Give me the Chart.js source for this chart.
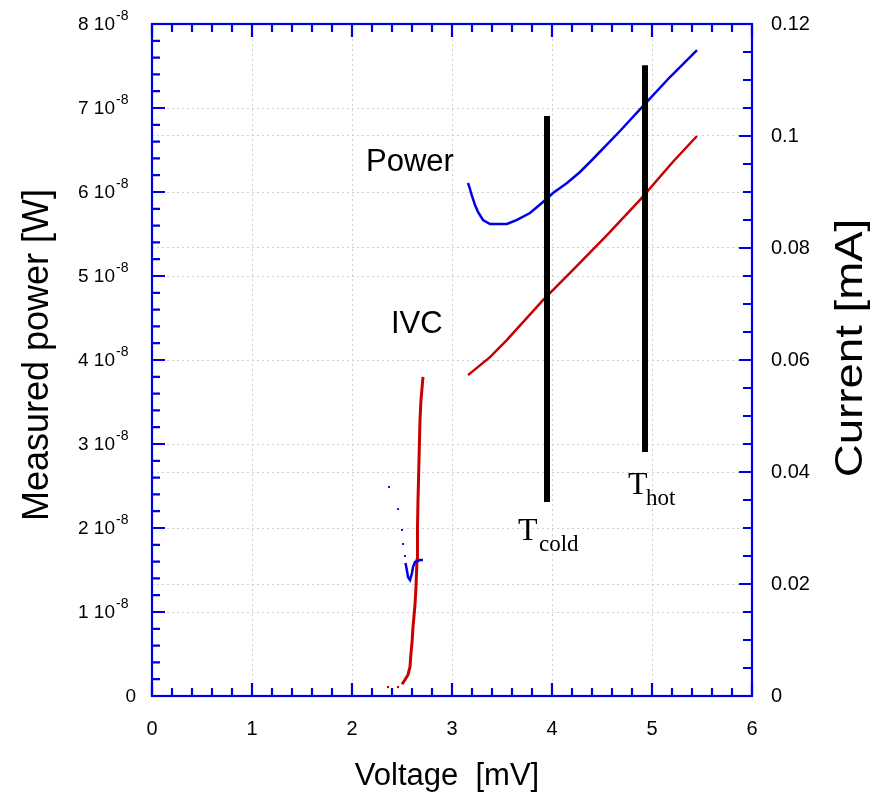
<!DOCTYPE html>
<html>
<head>
<meta charset="utf-8">
<script src="https://cdn.jsdelivr.net/npm/chart.js@4/dist/chart.umd.min.js"></script>
<style>
  body{margin:0;background:#fff;}
</style>
</head>
<body>
<canvas id="chart" width="878" height="798"></canvas>
<script>
// power curve, upper branch (mV, W)
let powerV=[3.16,3.18,3.19,3.23,3.26,3.31,3.38,3.55,3.65,3.78,3.91,4.01,4.15,4.28,4.40,4.68,4.93,5.18,5.45];
let powerW=[6.107e-8,6.036e-8,5.988e-8,5.845e-8,5.762e-8,5.667e-8,5.619e-8,5.619e-8,5.667e-8,5.750e-8,5.881e-8,5.988e-8,6.107e-8,6.238e-8,6.381e-8,6.726e-8,7.048e-8,7.369e-8,7.690e-8];
// power near the gap, scattered dots then dense part
let powerDotsV=[2.37,2.46,2.50,2.51,2.53];
let powerDotsW=[2.488e-8,2.226e-8,1.976e-8,1.810e-8,1.667e-8];
let powerLowV=[2.535,2.55,2.56,2.58,2.60,2.61,2.63,2.68,2.71];
let powerLowW=[1.583e-8,1.488e-8,1.417e-8,1.381e-8,1.464e-8,1.536e-8,1.595e-8,1.619e-8,1.619e-8];
// IV curve (mV, mA)
let ivcV=[3.16,3.38,3.55,3.91,4.21,4.55,4.88,5.21,5.45];
let ivcI=[0.0573,0.0605,0.0636,0.0707,0.0761,0.0823,0.0886,0.0954,0.1000];
let ivcGapV=[2.50,2.53,2.56,2.58,2.59,2.60,2.61,2.63,2.64,2.65,2.655,2.66,2.67,2.68,2.69,2.71];
let ivcGapI=[0.0021,0.0029,0.0038,0.0052,0.0077,0.0095,0.0123,0.0163,0.0195,0.0243,0.0302,0.035,0.0421,0.0493,0.0529,0.057];
let ivcDotsV=[2.36,2.46,0,0];
let ivcDotsI=[0.0016,0.0016,0,0.0012];
// Tcold / Thot markers (mV, W)
let coldV=3.95, coldW=[2.31e-8,6.905e-8];
let hotV=4.93, hotW=[2.905e-8,7.51e-8];

let fam="'Liberation Sans', Arial, sans-serif";
let serif="'Liberation Serif', 'Times New Roman', serif";
let blue="#0000e6", red="#c80000";

function pts(xs,ys){
    let out=[];
    for(let i=0;i<xs.length;i++){ out.push({x:xs[i],y:ys[i]}); }
    return out;
}

let gridOpt={color:"#cfcfcf",lineWidth:1,drawTicks:false};
let borderOpt={display:false,dash:[2,3]};

const frame={
    id:"frame",
    afterDraw(chart){
        const ctx=chart.ctx, a=chart.chartArea;
        const x=chart.scales.x, y=chart.scales.y, y1=chart.scales.y1;
        ctx.save();
        ctx.strokeStyle=blue;
        ctx.lineWidth=2.2;
        ctx.strokeRect(a.left,a.top,a.right-a.left,a.bottom-a.top);
        ctx.beginPath();
        // x ticks, bottom and top
        for(let i=0;i<=30;i++){
            let px=x.getPixelForValue(i*0.2), len=(i%5===0)?13:8;
            ctx.moveTo(px,a.bottom); ctx.lineTo(px,a.bottom-len);
            ctx.moveTo(px,a.top); ctx.lineTo(px,a.top+len);
        }
        // left ticks
        for(let i=0;i<=40;i++){
            let py=y.getPixelForValue(i*0.2e-8), len=(i%5===0)?13:8;
            ctx.moveTo(a.left,py); ctx.lineTo(a.left+len,py);
        }
        // right ticks
        for(let i=0;i<=24;i++){
            let py=y1.getPixelForValue(i*0.005), len=(i%4===0)?13:9;
            ctx.moveTo(a.right,py); ctx.lineTo(a.right-len,py);
        }
        ctx.stroke();

        // left tick labels with exponent
        ctx.fillStyle="#000";
        ctx.textBaseline="middle";
        for(let k=0;k<=8;k++){
            let py=y.getPixelForValue(k*1e-8);
            ctx.textAlign="right";
            ctx.font="19px "+fam;
            if(k===0){ ctx.fillText("0",136,py+1); continue; }
            ctx.fillText(k+" 10",115,py+1);
            ctx.textAlign="left";
            ctx.font="14px "+fam;
            ctx.fillText("-8",116,py-8);
        }

        // axis titles
        ctx.textAlign="center";
        ctx.textBaseline="alphabetic";
        ctx.font="36px "+fam;
        ctx.save();
        ctx.translate(48,355);
        ctx.rotate(-Math.PI/2);
        ctx.fillText("Measured power [W]",0,0);
        ctx.restore();
        ctx.font="38px "+fam;
        ctx.save();
        ctx.translate(862,348);
        ctx.rotate(-Math.PI/2);
        ctx.scale(1.2,1);
        ctx.fillText("Current [mA]",0,0);
        ctx.restore();
        ctx.font="31px "+fam;
        ctx.fillText("Voltage  [mV]",447,785);

        // curve labels
        ctx.textAlign="left";
        ctx.font="31px "+fam;
        ctx.fillText("Power",366,171);
        ctx.fillText("IVC",391,333);

        ctx.font="32px "+serif;
        ctx.fillText("T",518,540);
        ctx.fillText("T",628,494);
        ctx.font="23px "+serif;
        ctx.fillText("cold",539,551);
        ctx.fillText("hot",646,505);
        ctx.restore();
    }
};

new Chart(document.getElementById("chart"),{
    type:"scatter",
    data:{
        datasets:[
            {data:pts([coldV,coldV],coldW),yAxisID:"y",showLine:true,borderColor:"#000",borderWidth:6,pointRadius:0},
            {data:pts([hotV,hotV],hotW),yAxisID:"y",showLine:true,borderColor:"#000",borderWidth:6,pointRadius:0},
            {data:pts(powerV,powerW),yAxisID:"y",showLine:true,borderColor:blue,borderWidth:2.5,pointRadius:0},
            {data:pts(powerLowV,powerLowW),yAxisID:"y",showLine:true,borderColor:blue,borderWidth:2.5,pointRadius:0},
            {data:pts(powerDotsV,powerDotsW),yAxisID:"y",showLine:false,pointStyle:"rect",pointRadius:1.3,backgroundColor:blue,borderColor:blue,borderWidth:0},
            {data:pts(ivcV,ivcI),yAxisID:"y1",showLine:true,borderColor:red,borderWidth:2.5,pointRadius:0},
            {data:pts(ivcGapV,ivcGapI),yAxisID:"y1",showLine:true,borderColor:red,borderWidth:3,pointRadius:0},
            {data:pts(ivcDotsV,ivcDotsI),yAxisID:"y1",showLine:false,pointStyle:"rect",pointRadius:1.5,backgroundColor:red,borderColor:red,borderWidth:0}
        ]
    },
    options:{
        responsive:false,
        animation:false,
        layout:{padding:{top:24,left:0,right:0,bottom:0}},
        plugins:{legend:{display:false},tooltip:{enabled:false}},
        scales:{
            x:{
                type:"linear",min:0,max:6,
                ticks:{stepSize:1,padding:21,color:"#000",font:{size:20,family:fam}},
                grid:gridOpt,border:borderOpt,
                afterFit(s){ s.height=102; s.paddingLeft=0; s.paddingRight=0; }
            },
            y:{
                type:"linear",position:"left",min:0,max:8e-8,
                ticks:{stepSize:1e-8,display:false},
                grid:gridOpt,border:borderOpt,
                afterFit(s){ s.width=152; s.paddingTop=0; s.paddingBottom=0; }
            },
            y1:{
                type:"linear",position:"right",min:0,max:0.12,
                ticks:{stepSize:0.02,padding:19,color:"#000",font:{size:20,family:fam},
                    callback:function(v){ return String(+v.toFixed(2)); }},
                grid:gridOpt,border:borderOpt,
                afterFit(s){ s.width=126; s.paddingTop=0; s.paddingBottom=0; }
            }
        }
    },
    plugins:[frame]
});
</script>
</body>
</html>
